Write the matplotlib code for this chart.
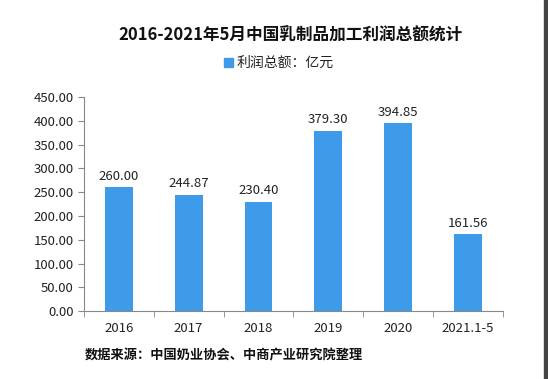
import numpy as np
import matplotlib
matplotlib.use("Agg")
import matplotlib.pyplot as plt
from matplotlib.patches import Rectangle

plt.rcParams['font.family'] = ['Noto Sans CJK SC', 'DejaVu Sans']

years = ["2016", "2017", "2018", "2019", "2020", "2021.1-5"]
profit = [260.00, 244.87, 230.40, 379.30, 394.85, 161.56]
yticks = np.arange(0, 451, 50)

BLUE = "#3d9be9"
fig = plt.figure(figsize=(5.48, 3.79), dpi=100)
ax = fig.add_axes([0.153, 0.179, 0.765, 0.565])
x = np.arange(len(years))
ax.bar(x, profit, width=0.4, color=BLUE)
for xi, v in zip(x, profit):
    ax.text(xi, v + 10, f"{v:.2f}", ha="center", va="bottom", fontsize=9.5, color="#222222")

ax.set_xlim(-0.5, len(years) - 0.5)
ax.set_ylim(0, 450)
ax.set_yticks(yticks)
ax.set_yticklabels([f"{t:.2f}" for t in yticks], fontsize=9.5, color="#222222")
ax.set_xticks(x)
ax.set_xticklabels(years, fontsize=9.5, color="#222222")
ax.set_xticks(np.arange(-0.5, len(years)), minor=True)
ax.tick_params(axis="x", which="major", length=0, pad=8)
ax.tick_params(axis="x", which="minor", length=4, color="#888888")
ax.tick_params(axis="y", length=4, color="#888888")
for s in ("top", "right"):
    ax.spines[s].set_visible(False)
for s in ("left", "bottom"):
    ax.spines[s].set_color("#888888")

fig.text(0.53, 0.905, "2016-2021年5月中国乳制品加工利润总额统计", ha="center", va="center",
         fontsize=12, fontweight="bold", color="#111111")
fig.patches.append(Rectangle((0.408, 0.822), 0.018, 0.026, transform=fig.transFigure,
                             color=BLUE, figure=fig))
fig.text(0.432, 0.835, "利润总额：亿元", ha="left", va="center", fontsize=10, color="#222222")
fig.text(0.155, 0.063, "数据来源：中国奶业协会、中商产业研究院整理", ha="left", va="center",
         fontsize=9.5, fontweight="bold", color="#111111")
fig.patches.append(Rectangle((0.993, 0), 0.007, 1, transform=fig.transFigure,
                             color="#444444", figure=fig))

fig.savefig("out.png", dpi=100)
